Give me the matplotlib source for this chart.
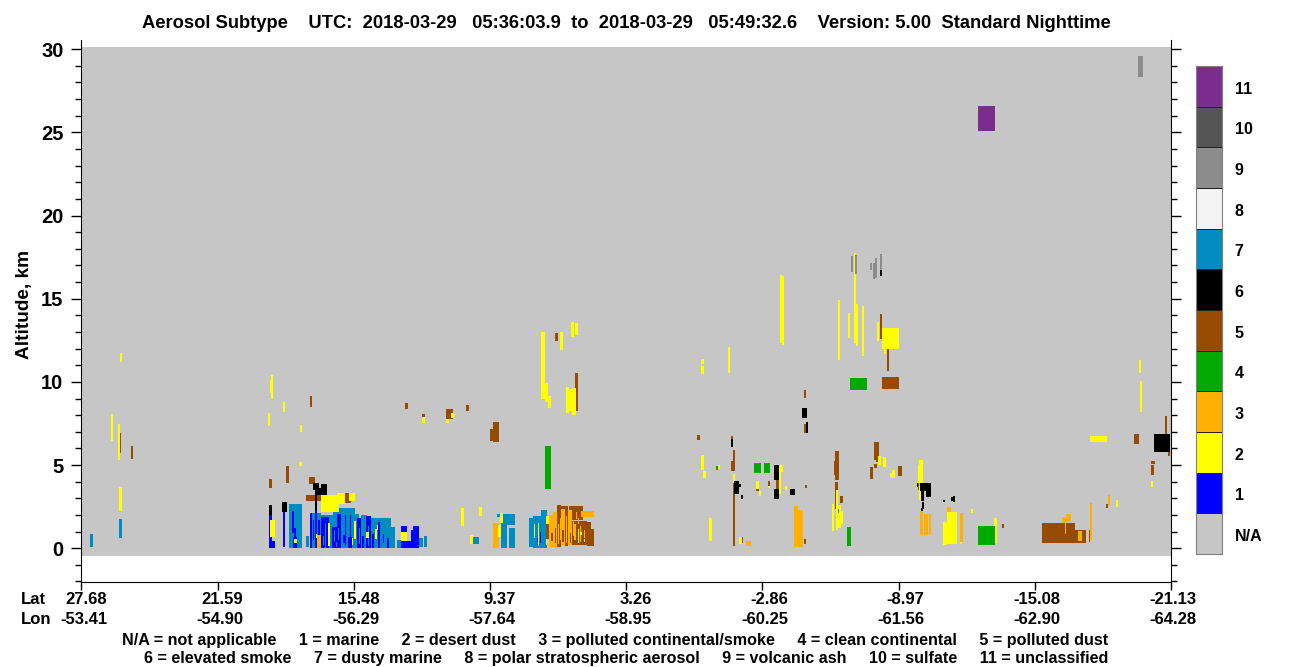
import numpy as np
import matplotlib
matplotlib.use("Agg")
import matplotlib.pyplot as plt
from matplotlib.colors import ListedColormap
from matplotlib.transforms import ScaledTranslation

plt.rcParams['font.family'] = ['Liberation Sans', 'DejaVu Sans']
plt.rcParams['font.weight'] = 'bold'

BIN_KM = 0.0601   # one altitude bin
N_PROFILES = 1090
BIN_BOTTOM = -8
BIN_TOP = 501

lat_labels = ["27.68", "21.59", "15.48", "9.37", "3.26", "-2.86", "-8.97", "-15.08", "-21.13"]
lon_labels = ["-53.41", "-54.90", "-56.29", "-57.64", "-58.95", "-60.25", "-61.56", "-62.90", "-64.28"]
class_labels = ["N/A", "1", "2", "3", "4", "5", "6", "7", "8", "9", "10", "11"]
class_colors = ["#c6c6c6", "#0000ff", "#ffff00", "#ffb000", "#00aa00", "#964b00",
                "#000000", "#008cc0", "#f3f3f3", "#8c8c8c", "#555555", "#7b2d8f"]

# every block: profile start, profile end, altitude bin start, altitude bin end
dusty_marine = [
    (9, 12, 1, 14), (38, 41, 10, 29), (208, 221, 0, 44), (225, 228, 1, 12),
    (229, 240, 0, 35), (240, 248, 0, 33), (248, 252, 0, 33), (252, 256, 0, 37),
    (256, 274, 0, 40), (274, 278, 0, 34), (278, 280, 0, 30), (280, 286, 0, 33),
    (286, 290, 0, 29), (290, 310, 0, 30), (310, 314, 0, 21), (316, 320, 0, 8),
    (338, 342, 1, 10), (343, 346, 1, 12), (392, 398, 4, 11), (416, 420, 31, 34),
    (420, 426, 0, 34), (426, 434, 23, 34), (428, 434, 0, 20), (448, 452, 1, 30),
    (452, 460, 0, 32), (460, 466, 0, 38),
]
marine = [
    (188, 191, 0, 41), (188, 194, 0, 7), (202, 204, 1, 43), (211, 213, 15, 37),
    (213, 215, 10, 20), (212, 216, 0, 11), (229, 231, 0, 35), (234, 236, 0, 38),
    (232, 233, 8, 28), (237, 239, 2, 28), (240, 248, 0, 31), (251, 259, 0, 21),
    (256, 260, 0, 34), (264, 265, 2, 33), (267, 271, 0, 11), (269, 270, 0, 33),
    (262, 264, 5, 13), (276, 280, 0, 30), (285, 290, 0, 32), (297, 299, 0, 26),
    (302, 303, 5, 14), (306, 308, 0, 10), (281, 283, 0, 12), (291, 293, 0, 14),
    (320, 326, 16, 22), (320, 330, 0, 7), (330, 332, 0, 18), (332, 338, 0, 22),
    (456, 457, 6, 10), (459, 460, 5, 16),
]
dusty_on_top = [
    (244, 245, 0, 25), (253, 254, 6, 18), (249, 250, 10, 24), (257, 258, 8, 20),
    (255, 256, 1, 6), (278, 279, 4, 20), (287, 288, 2, 22), (242, 243, 3, 12),
]
orange = [
    (236, 240, 0, 13), (412, 418, 0, 25), (468, 472, 1, 33), (472, 476, 1, 36),
    (665, 670, 2, 7), (713, 717, 1, 42), (717, 722, 1, 38), (839, 842, 13, 37),
    (843, 847, 13, 34), (848, 850, 13, 34), (866, 870, 36, 41), (981, 985, 25, 31),
    (985, 990, 26, 34), (1009, 1011, 8, 45), (1027, 1029, 43, 53),
]
brown = [
    (38, 40, 95, 115), (50, 52, 89, 102), (229, 231, 141, 152), (324, 327, 139, 145),
    (341, 344, 131, 134), (365, 372, 129, 139), (188, 191, 60, 69), (205, 208, 65, 82),
    (228, 234, 64, 71), (225, 240, 47, 53), (264, 268, 45, 55), (268, 270, 45, 47),
    (385, 388, 137, 143), (412, 418, 106, 126), (409, 412, 107, 119),
    (474, 477, 207, 215), (494, 497, 137, 175), (491, 492, 140, 153),
    (465, 468, 9, 24), (476, 480, 1, 43), (480, 484, 3, 42), (484, 487, 2, 42),
    (488, 502, 28, 42), (491, 506, 3, 27), (502, 510, 3, 26), (506, 513, 2, 19),
    (470, 472, 7, 15), (481, 483, 6, 18), (474, 475, 5, 20),
    (799, 801, 209, 234), (806, 808, 177, 212), (804, 805, 200, 209), (801, 818, 159, 171),
    (723, 725, 150, 158), (723, 725, 115, 124), (616, 619, 108, 113), (650, 652, 109, 112),
    (652, 654, 77, 98), (650, 654, 77, 87), (652, 654, 2, 65), (660, 662, 5, 11),
    (723, 725, 4, 9), (754, 758, 68, 97), (753, 755, 73, 87), (754, 757, 58, 66),
    (754, 755, 39, 58), (759, 762, 45, 52), (793, 798, 88, 106), (795, 797, 86, 88),
    (793, 796, 80, 84), (789, 792, 69, 81), (817, 821, 72, 82), (837, 838, 58, 66),
    (695, 698, 57, 68), (687, 689, 62, 67), (675, 678, 57, 59), (724, 726, 60, 63),
    (921, 923, 20, 24), (961, 994, 5, 25), (994, 1005, 5, 18), (1008, 1009, 6, 18),
    (1025, 1027, 40, 44), (1053, 1058, 104, 114), (1070, 1073, 73, 83), (1070, 1074, 84, 87),
]
orange_on_top = [
    (480, 484, 3, 39), (487, 491, 3, 38), (500, 513, 31, 37), (495, 496, 29, 36),
    (497, 498, 24, 30), (493, 495, 8, 24), (477, 478, 4, 24), (997, 1001, 7, 17),
    (984, 985, 14, 25), (874, 876, 4, 33), (879, 882, 6, 35), (485, 486, 5, 32),
    (499, 500, 6, 22), (492, 493, 12, 28), (479, 480, 8, 30), (503, 504, 10, 18),
]
brown_in_orange = [(481, 483, 6, 18), (489, 490, 5, 15), (484, 485, 6, 24)]
yellow = [
    (30, 32, 107, 134), (37, 39, 88, 124), (38, 41, 37, 61), (39, 41, 186, 195),
    (190, 192, 149, 173), (189, 191, 155, 168), (202, 204, 136, 146), (187, 189, 122, 135),
    (219, 221, 116, 123), (218, 221, 82, 86), (341, 344, 125, 131), (365, 368, 125, 129),
    (370, 373, 130, 135), (189, 194, 11, 28), (213, 216, 5, 9),
    (240, 258, 36, 53), (256, 264, 44, 55), (268, 274, 47, 55),
    (320, 326, 7, 16), (460, 464, 149, 216), (464, 467, 146, 165), (467, 470, 140, 152),
    (479, 482, 198, 216), (490, 493, 211, 226), (494, 497, 213, 225),
    (485, 488, 135, 161), (488, 491, 137, 159), (491, 495, 133, 160),
    (380, 383, 22, 40), (398, 401, 32, 41), (389, 392, 4, 13), (417, 420, 11, 23),
    (419, 422, 25, 35), (453, 454, 10, 24), (457, 458, 2, 25), (465, 468, 24, 32),
    (465, 466, 3, 9), (497, 498, 5, 19), (499, 501, 13, 16), (503, 504, 6, 9),
    (699, 701, 205, 273), (701, 703, 203, 272), (647, 649, 175, 201),
    (620, 623, 184, 189), (620, 623, 174, 182), (757, 759, 188, 248), (767, 769, 210, 235),
    (773, 775, 205, 295), (775, 777, 202, 244), (781, 783, 192, 242), (796, 798, 207, 226),
    (801, 818, 199, 220), (803, 805, 194, 208), (620, 623, 78, 93), (622, 625, 70, 77),
    (637, 639, 79, 83), (698, 702, 76, 83), (698, 700, 54, 76), (704, 706, 58, 62),
    (687, 689, 60, 62), (675, 678, 59, 67), (678, 680, 52, 57), (652, 654, 65, 74),
    (628, 631, 7, 30), (658, 661, 4, 11), (755, 757, 18, 58), (751, 753, 17, 44),
    (757, 760, 20, 43), (760, 762, 24, 37), (797, 800, 83, 92), (802, 805, 81, 91),
    (809, 814, 70, 75), (811, 814, 75, 78), (838, 842, 65, 88), (837, 839, 65, 83),
    (838, 840, 48, 62), (866, 876, 4, 36), (862, 866, 3, 26), (879, 881, 4, 6),
    (890, 892, 35, 39), (913, 916, 5, 30), (909, 910, 17, 21), (1035, 1037, 41, 48),
    (1009, 1026, 106, 112), (1059, 1061, 136, 167), (1058, 1060, 175, 188), (1070, 1072, 61, 67),
    (247, 249, 2, 25), (273, 275, 9, 27), (271, 272, 3, 10), (285, 288, 10, 16),
    (294, 296, 9, 19), (296, 297, 18, 23), (235, 236, 10, 14),
]
green = [
    (464, 470, 59, 102), (635, 637, 78, 82), (673, 680, 75, 85), (683, 689, 75, 85),
    (766, 770, 2, 21), (769, 786, 158, 170), (897, 914, 3, 22), (757, 758, 35, 39),
]
brown_on_top = [(1084, 1086, 99, 132), (1087, 1089, 92, 99)]
black = [
    (232, 238, 58, 65), (240, 246, 53, 64), (234, 240, 53, 60), (234, 236, 38, 53),
    (201, 206, 36, 46), (188, 191, 33, 43), (799, 801, 272, 278), (721, 726, 130, 140),
    (725, 727, 115, 126), (650, 652, 101, 109), (693, 698, 68, 83), (693, 698, 49, 59),
    (709, 714, 53, 59), (653, 658, 54, 67), (658, 660, 61, 64), (660, 662, 49, 53),
    (839, 850, 57, 65), (845, 850, 51, 57), (840, 843, 47, 57), (836, 837, 61, 65),
    (841, 843, 39, 46), (840, 842, 37, 40), (862, 864, 46, 48), (870, 874, 47, 51),
    (872, 874, 46, 52), (1073, 1089, 96, 114),
]
volcanic_ash = [
    (770, 772, 276, 292), (774, 776, 274, 293), (789, 791, 278, 285), (792, 794, 269, 285),
    (794, 796, 270, 290), (799, 801, 278, 294), (1057, 1062, 471, 492),
]
unclassified = [(897, 914, 417, 442)]

# classes are burned in this order, later ones cover earlier ones
layers = [(7, dusty_marine), (1, marine), (7, dusty_on_top), (3, orange), (5, brown), (3, orange_on_top),
          (5, brown_in_orange), (2, yellow), (4, green), (5, brown_on_top), (6, black), (9, volcanic_ash),
          (11, unclassified)]

grid = np.zeros((BIN_TOP - BIN_BOTTOM, N_PROFILES), dtype=int)
for code, blocks in layers:
    for p0, p1, a0, a1 in blocks:
        grid[a0 - BIN_BOTTOM:a1 - BIN_BOTTOM, p0:p1] = code

cmap = ListedColormap(class_colors)

fig = plt.figure(figsize=(13, 6.67), dpi=100)
ax = fig.add_axes([81.5 / 1300, 1 - 581.5 / 667, 1089.5 / 1300, 541.5 / 667])
ax.imshow(grid, origin="lower", cmap=cmap, vmin=0, vmax=11, aspect="auto", interpolation="nearest",
          extent=[0, N_PROFILES, BIN_BOTTOM * BIN_KM, BIN_TOP * BIN_KM])
ax.set_xlim(0, N_PROFILES)
ax.set_ylim(-2, 30.55)

ax.spines["top"].set_visible(False)
ax.set_yticks(np.arange(0, 31, 5))
ax.set_yticks(np.arange(-2, 31, 1), minor=True)
ax.tick_params(axis="y", which="major", length=7.5, width=1, labelsize=14.5, right=True, pad=5.5)
ax.tick_params(axis="y", which="minor", length=4, width=1, right=True)
ax.set_ylabel("Altitude, km", fontsize=13.7, fontweight="bold")
ax.yaxis.set_label_coords(-0.0445, 0.512)

tick_pos = np.linspace(0, N_PROFILES, len(lat_labels))
ax.set_xticks(tick_pos)
ax.set_xticklabels([a + "\n" + b for a, b in zip(lat_labels, lon_labels)], fontsize=12,
                   multialignment="right", linespacing=1.45)
ax.tick_params(axis="x", length=5.5, width=1, pad=2)
# the labels sit a little right of their ticks
nudge = ScaledTranslation(2 / 100, 0, fig.dpi_scale_trans)
for lab in ax.get_xticklabels():
    lab.set_transform(lab.get_transform() + nudge)
fig.text(21 / 1300, 1 - 599 / 667, "Lat", fontsize=12, va="center")
fig.text(21 / 1300, 1 - 619 / 667, "Lon", fontsize=12, va="center")

fig.text(626 / 1300, 1 - 24 / 667,
         "Aerosol Subtype    UTC:  2018-03-29   05:36:03.9  to  2018-03-29   05:49:32.6    Version: 5.00  Standard Nighttime",
         fontsize=13.2, ha="center", va="center")
fig.text(615 / 1300, 1 - 640 / 667,
         "N/A = not applicable     1 = marine     2 = desert dust     3 = polluted continental/smoke     4 = clean continental     5 = polluted dust",
         fontsize=11.6, ha="center", va="center")
fig.text(626 / 1300, 1 - 658 / 667,
         "6 = elevated smoke     7 = dusty marine     8 = polar stratospheric aerosol     9 = volcanic ash     10 = sulfate     11 = unclassified",
         fontsize=11.65, ha="center", va="center")

# colour key on the right
cax = fig.add_axes([1196 / 1300, 1 - 554 / 667, 26 / 1300, 488 / 667])
cax.pcolormesh([0, 1], np.arange(13), np.arange(12).reshape(-1, 1), cmap=cmap, vmin=0, vmax=11,
               edgecolors="#222222", linewidth=0.6)
cax.set_xticks([])
cax.yaxis.tick_right()
cax.set_yticks(np.arange(12) + 0.47)
cax.set_yticklabels(class_labels, fontsize=11.5)
cax.tick_params(axis="y", length=0, pad=9)
for s in cax.spines.values():
    s.set_color("#808080")

fig.savefig("out.png", dpi=100)
